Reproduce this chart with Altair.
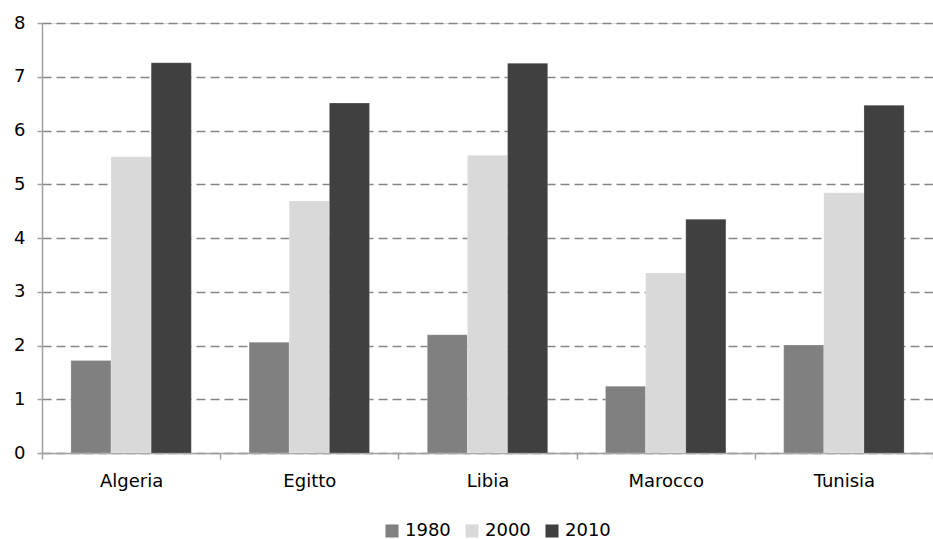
import altair as alt
import pandas as pd

countries = ["Algeria", "Egitto", "Libia", "Marocco", "Tunisia"]
years = ["1980", "2000", "2010"]
v1980 = [1.72, 2.06, 2.20, 1.24, 2.01]
v2000 = [5.51, 4.69, 5.54, 3.35, 4.84]
v2010 = [7.26, 6.51, 7.25, 4.35, 6.47]
colors = ["#808080", "#d9d9d9", "#404040"]

rows = []
for series, vals in zip(years, [v1980, v2000, v2010]):
    for c, v in zip(countries, vals):
        rows.append({"Paese": c, "Anno": series, "Valore": v})
df = pd.DataFrame(rows)

FONT = "DejaVu Sans"

chart = alt.Chart(df).mark_bar(stroke="#ffffff", strokeOpacity=0.35, strokeWidth=0.6).encode(
    x=alt.X("Paese:N", sort=countries, title=None,
            scale=alt.Scale(paddingInner=0, paddingOuter=0),
            axis=alt.Axis(labelAngle=0, tickBand="extent", tickSize=6, tickColor="#a0a0a0",
                          domainColor="#a0a0a0", domainWidth=1.5, tickWidth=1.5,
                          labelFont=FONT, labelFontSize=18, labelColor="#000000",
                          labelPadding=13, grid=False)),
    xOffset=alt.XOffset("Anno:N", sort=years,
                        scale=alt.Scale(paddingInner=0, paddingOuter=0.72)),
    y=alt.Y("Valore:Q", title=None,
            scale=alt.Scale(domain=[0, 8], nice=False),
            axis=alt.Axis(values=[0, 1, 2, 3, 4, 5, 6, 7, 8], tickSize=5, tickColor="#a0a0a0",
                          tickWidth=1.5, domainColor="#a0a0a0", domainWidth=1.5,
                          labelFont=FONT, labelFontSize=18, labelColor="#000000",
                          labelPadding=12, grid=True, gridColor="#868686",
                          gridDash=[9, 5], gridWidth=1.4)),
    color=alt.Color("Anno:N", sort=years,
                    scale=alt.Scale(domain=years, range=colors),
                    legend=alt.Legend(title=None, orient="none", direction="horizontal",
                                      legendX=341, legendY=499, padding=0,
                                      symbolType="square", symbolSize=170,
                                      symbolStrokeWidth=0, symbolOpacity=1,
                                      labelFont=FONT, labelFontSize=18,
                                      labelColor="#000000", labelOffset=4,
                                      columnPadding=12)),
).properties(
    width=891, height=430,
    padding={"left": 42, "top": 23, "right": 0, "bottom": 86},
    autosize=alt.AutoSizeParams(type="none"),
).configure_view(stroke=None).configure(background="#ffffff")

chart.save("out.html", embed_options={"renderer": "svg", "actions": False})
